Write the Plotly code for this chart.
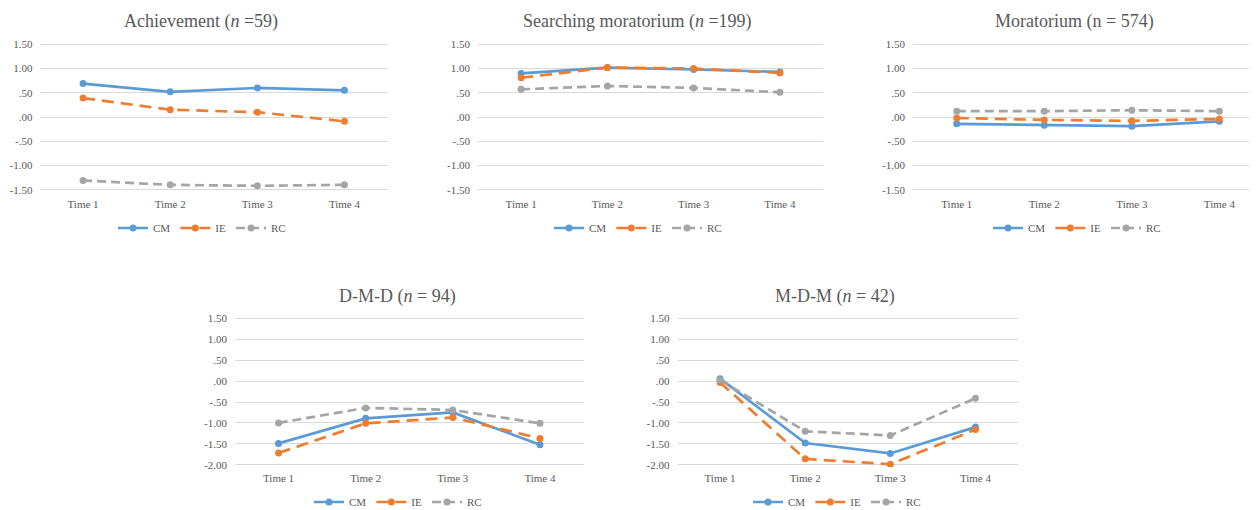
import plotly.graph_objects as go

# ---------------- data ----------------
categories = ["Time 1", "Time 2", "Time 3", "Time 4"]
series_names = ["CM", "IE", "RC"]

titles = [
    "Achievement (<i>n</i> =59)",
    "Searching moratorium (<i>n</i> =199)",
    "Moratorium (n = 574)",
    "D-M-D (<i>n</i> = 94)",
    "M-D-M (<i>n</i> = 42)",
]

achievement_cm = [0.69, 0.52, 0.60, 0.55]
achievement_ie = [0.39, 0.15, 0.10, -0.09]
achievement_rc = [-1.31, -1.40, -1.42, -1.40]

searching_cm = [0.90, 1.02, 0.98, 0.93]
searching_ie = [0.81, 1.02, 1.00, 0.91]
searching_rc = [0.57, 0.64, 0.60, 0.51]

moratorium_cm = [-0.14, -0.17, -0.19, -0.09]
moratorium_ie = [-0.02, -0.06, -0.08, -0.04]
moratorium_rc = [0.12, 0.12, 0.14, 0.12]

dmd_cm = [-1.49, -0.89, -0.75, -1.52]
dmd_ie = [-1.72, -1.01, -0.87, -1.37]
dmd_rc = [-1.00, -0.64, -0.69, -1.01]

mdm_cm = [0.06, -1.48, -1.73, -1.10]
mdm_ie = [-0.03, -1.86, -1.99, -1.16]
mdm_rc = [0.03, -1.20, -1.30, -0.41]

top_ticks = [1.5, 1.0, 0.5, 0.0, -0.5, -1.0, -1.5]
top_tick_labels = ["1.50", "1.00", ".50", ".00", "-.50", "-1.00", "-1.50"]
bottom_ticks = [1.5, 1.0, 0.5, 0.0, -0.5, -1.0, -1.5, -2.0]
bottom_tick_labels = ["1.50", "1.00", ".50", ".00", "-.50", "-1.00", "-1.50", "-2.00"]

panels = [
    [achievement_cm, achievement_ie, achievement_rc],
    [searching_cm, searching_ie, searching_rc],
    [moratorium_cm, moratorium_ie, moratorium_rc],
    [dmd_cm, dmd_ie, dmd_rc],
    [mdm_cm, mdm_ie, mdm_rc],
]

# ---------------- styling / layout ----------------
OFF = 8  # page body margin: the figure is placed 8px from the page corner
W, H = 1257 - OFF, 510 - OFF
FONT = "Liberation Serif, Times New Roman, serif"
TXT = "#595959"
GRID = "#D9D9D9"
colors = ["#5B9BD5", "#ED7D31", "#A5A5A5"]
dashes = ["solid", "12px,7px", "9px,5px"]


def px(x):
    return (x - OFF) / W


def py(y):
    return 1 - (y - OFF) / H


# page-pixel boxes of plot areas: (left, right, top, bottom), y-range, ticks, x-range, label standoff
boxes = [
    (39.5, 388, 44.3, 189.7, (-1.5, 1.5), top_ticks, top_tick_labels, (-0.5, 3.5), 6),
    (478, 823, 44.3, 189.7, (-1.5, 1.5), top_ticks, top_tick_labels, (-0.5, 3.5), 7),
    (913, 1257, 44.3, 189.7, (-1.5, 1.5), top_ticks, top_tick_labels, (-0.5, 3.43), 7),
    (235, 583.5, 318.5, 464.7, (-2.0, 1.5), bottom_ticks, bottom_tick_labels, (-0.5, 3.5), 7),
    (677.5, 1018, 318.5, 464.7, (-2.0, 1.5), bottom_ticks, bottom_tick_labels, (-0.5, 3.5), 7),
]
title_pos = [(201, 22), (637, 22), (1074, 22), (397, 296), (835, 296)]
legend_pos = [(202, 228), (638, 228), (1077, 228), (398, 502), (837, 502)]

fig = go.Figure()
layout = dict(
    width=W, height=H,
    margin=dict(l=0, r=0, t=0, b=0, autoexpand=False),
    paper_bgcolor="white", plot_bgcolor="white",
    font=dict(family=FONT, color=TXT, size=11),
    annotations=[],
)

pad = 0.06
for i, (vals, box) in enumerate(zip(panels, boxes)):
    left, right, top, bottom, yr, tv, tt, xr, so = box
    k = i + 1
    ax = "" if k == 1 else str(k)
    lg = "legend" if k == 1 else f"legend{k}"
    ppu = (bottom - top) / (yr[1] - yr[0])
    for j, name in enumerate(series_names):
        fig.add_trace(go.Scatter(
            x=categories, y=vals[j], name=name, mode="lines+markers",
            line=dict(color=colors[j], width=2.7, dash=dashes[j]),
            marker=dict(color=colors[j], size=7, symbol="circle"),
            xaxis="x" + ax, yaxis="y" + ax, legend=lg, hoverinfo="skip",
        ))
    layout["xaxis" + ax] = dict(
        domain=[max(px(left), 0.0), min(px(right), 1.0)], anchor="y" + ax,
        type="category", range=list(xr),
        showgrid=False, zeroline=False, showline=False, ticks="",
        tickfont=dict(family=FONT, size=11, color=TXT), ticklabelstandoff=3,
        fixedrange=True,
    )
    layout["yaxis" + ax] = dict(
        domain=[py(bottom + pad * ppu), py(top - pad * ppu)],
        anchor="x" + ax, range=[yr[0] - pad, yr[1] + pad],
        tickvals=tv, ticktext=tt, showgrid=True, gridcolor=GRID, gridwidth=1,
        zeroline=False, showline=False, ticks="",
        tickfont=dict(family=FONT, size=11, color=TXT), ticklabelstandoff=so,
        fixedrange=True,
    )
    lx, ly = legend_pos[i]
    layout[lg] = dict(
        x=px(lx), y=py(ly), xanchor="center", yanchor="middle",
        orientation="h", font=dict(family=FONT, size=11, color=TXT),
        bgcolor="rgba(0,0,0,0)", itemclick=False, itemdoubleclick=False,
    )
    tx, ty = title_pos[i]
    layout["annotations"].append(dict(
        text=titles[i], x=px(tx), y=py(ty), xref="paper", yref="paper",
        xanchor="center", yanchor="middle", showarrow=False,
        font=dict(family=FONT, size=18, color=TXT),
    ))

fig.update_layout(**layout)
fig.write_html("out.html")
